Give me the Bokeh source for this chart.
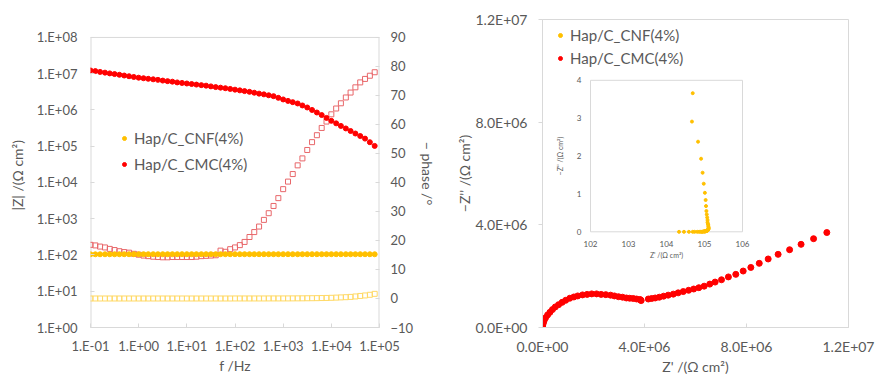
import math
from bokeh.plotting import figure
from bokeh.models import (Range1d, LinearAxis, LinearScale, FixedTicker, Legend, LegendItem)
from bokeh.layouts import row
from bokeh.embed import file_html
from bokeh.resources import INLINE
from bokeh.core.properties import value

# ---------------- data ----------------
freq = [0.1, 0.126, 0.158, 0.2, 0.251, 0.316, 0.398, 0.501, 0.631, 0.794,
        1.0, 1.26, 1.58, 2.0, 2.51, 3.16, 3.98, 5.01, 6.31, 7.94,
        10.0, 12.6, 15.8, 20.0, 25.1, 31.6, 39.8, 50.1, 63.1, 79.4,
        100, 126, 158, 200, 251, 316, 398, 501, 631, 794,
        1000, 1260, 1580, 2000, 2510, 3160, 3980, 5010, 6310, 7940,
        10000, 12600, 15800, 20000, 25100, 31600, 39800, 50100, 63100, 79400]

cmc_mod = [1.23e7, 1.18e7, 1.12e7, 1.07e7, 1.02e7, 9.77e6, 9.33e6, 8.91e6, 8.51e6, 8.13e6,
           7.76e6, 7.50e6, 7.24e6, 7.00e6, 6.76e6, 6.46e6, 6.24e6, 6.03e6, 5.75e6, 5.56e6,
           5.37e6, 5.19e6, 5.01e6, 4.84e6, 4.68e6, 4.47e6, 4.27e6, 4.12e6, 3.98e6, 3.80e6,
           3.63e6, 3.47e6, 3.31e6, 3.16e6, 2.99e6, 2.82e6, 2.69e6, 2.54e6, 2.40e6, 2.16e6,
           1.95e6, 1.78e6, 1.64e6, 1.51e6, 1.33e6, 1.17e6, 1.00e6, 8.51e5, 7.24e5, 6.03e5,
           5.01e5, 4.27e5, 3.63e5, 3.09e5, 2.63e5, 2.24e5, 1.91e5, 1.62e5, 1.29e5, 1.02e5]

cmc_phase = [18.5, 18.3, 17.9, 17.6, 17.1, 16.7, 16.3, 16.0, 15.8, 15.4,
             15.1, 14.8, 14.6, 14.4, 14.3, 14.2, 14.2, 14.3, 14.3, 14.3,
             14.3, 14.3, 14.4, 14.6, 14.7, 14.8, 14.9, 16.5, 16.1, 17.0,
             17.6, 18.4, 19.5, 21.2, 22.9, 24.8, 27.1, 29.4, 31.9, 34.6,
             37.7, 40.3, 42.9, 45.9, 48.3, 51.2, 53.9, 56.3, 58.8, 61.0,
             63.5, 65.5, 67.3, 69.3, 71.0, 72.8, 74.5, 75.7, 76.8, 78.0]

cnf_mod = [104.3, 104.5, 104.6, 104.7, 104.7, 104.8, 104.9, 104.9, 104.9, 105.0,
           105.0, 105.0, 105.0, 105.0, 105.0, 105.0, 105.1, 105.1, 105.1, 105.1,
           105.1, 105.1, 105.1, 105.1, 105.1, 105.1, 105.1, 105.1, 105.1, 105.1,
           105.1, 105.1, 105.1, 105.1, 105.1, 105.1, 105.1, 105.1, 105.1, 105.1,
           105.1, 105.1, 105.1, 105.1, 105.1, 105.1, 105.1, 105.1, 105.1, 105.1,
           105.1, 105.1, 105.0, 105.0, 105.0, 105.0, 105.0, 104.9, 104.8, 104.7]

cnf_phase = [0.0, 0.0, 0.0, 0.0, 0.0, 0.0, 0.0, 0.0, 0.0, 0.0,
             0.0, 0.0, 0.0, 0.0, 0.0, 0.0, 0.0, 0.0, 0.0, 0.0,
             0.0, 0.0, 0.0, 0.0, 0.0, 0.0, 0.0, 0.0, 0.0, 0.0,
             0.01, 0.01, 0.01, 0.01, 0.01, 0.01, 0.01, 0.02, 0.02, 0.02,
             0.02, 0.03, 0.04, 0.05, 0.06, 0.08, 0.10, 0.12, 0.15, 0.19,
             0.24, 0.30, 0.37, 0.45, 0.55, 0.70, 0.88, 1.05, 1.28, 1.60]

# Nyquist (CMC)
cmc_zre = [1.115e7, 1.063e7, 1.014e7, 9.69e6, 9.24e6, 8.85e6, 8.50e6, 8.17e6, 7.87e6, 7.58e6,
           7.29e6, 7.02e6, 6.77e6, 6.56e6, 6.34e6, 6.13e6, 5.93e6, 5.73e6, 5.52e6, 5.32e6,
           5.13e6, 4.93e6, 4.75e6, 4.58e6, 4.42e6, 4.28e6, 4.15e6,
           3.87e6, 3.85e6, 3.82e6, 3.69e6, 3.56e6, 3.42e6, 3.29e6, 3.14e6, 2.98e6, 2.82e6,
           2.67e6, 2.48e6, 2.30e6, 2.12e6, 1.93e6, 1.75e6, 1.57e6, 1.38e6, 1.23e6, 1.07e6,
           9.1e5, 7.7e5, 6.3e5, 5.0e5, 3.9e5, 2.9e5, 2.0e5, 1.2e5, 7e4, 4e4,
           2e4, 1e4, 5e3]
cmc_zim = [3.70e6, 3.46e6, 3.24e6, 3.03e6, 2.85e6, 2.67e6, 2.50e6, 2.34e6, 2.20e6, 2.07e6,
           1.97e6, 1.86e6, 1.77e6, 1.69e6, 1.61e6, 1.55e6, 1.50e6, 1.45e6, 1.40e6, 1.35e6,
           1.30e6, 1.26e6, 1.22e6, 1.18e6, 1.15e6, 1.13e6, 1.11e6,
           1.05e6, 1.07e6, 1.09e6, 1.11e6, 1.13e6, 1.14e6, 1.15e6, 1.18e6, 1.20e6, 1.23e6,
           1.26e6, 1.28e6, 1.29e6, 1.31e6, 1.31e6, 1.29e6, 1.27e6, 1.23e6, 1.19e6, 1.14e6,
           1.06e6, 9.8e5, 8.9e5, 8.0e5, 7.0e5, 5.9e5, 4.9e5, 3.8e5, 2.9e5, 2.1e5,
           1.5e5, 1.0e5, 6e4]

# Nyquist (CNF) - shown in inset
cnf_zre = [104.33, 104.46, 104.59, 104.69, 104.74, 104.81, 104.86, 104.90, 104.93, 104.95,
           104.97, 104.99, 105.00, 105.01, 105.02, 105.03, 105.04, 105.05, 105.06, 105.07,
           105.08, 105.09, 105.10, 105.10, 105.11, 105.11, 105.10, 105.10, 105.09, 105.08,
           105.08, 105.07, 105.06, 105.05, 105.04, 105.03, 105.01, 104.98, 104.95, 104.91,
           104.83, 104.67, 104.69]
cnf_zim = [0.00, 0.00, 0.00, 0.00, 0.00, 0.00, 0.00, 0.00, 0.00, 0.00,
           0.01, 0.01, 0.01, 0.01, 0.01, 0.02, 0.02, 0.02, 0.03, 0.03,
           0.04, 0.05, 0.06, 0.07, 0.09, 0.11, 0.14, 0.18, 0.21, 0.25,
           0.31, 0.38, 0.46, 0.55, 0.68, 0.84, 1.03, 1.27, 1.56, 1.93,
           2.38, 2.91, 3.66]

bode_xlim = [0.1, 1e5]
bode_ylim = [1.0, 1e8]
phase_lim = [-10, 90]
bode_x_ticks = [0.1, 1.0, 10.0, 100.0, 1000.0, 10000.0, 100000.0]
bode_x_labels = ["1.E-01", "1.E+00", "1.E+01", "1.E+02", "1.E+03", "1.E+04", "1.E+05"]
bode_y_ticks = [1.0, 10.0, 100.0, 1000.0, 10000.0, 100000.0, 1000000.0, 10000000.0, 100000000.0]
bode_y_labels = ["1.E+00", "1.E+01", "1.E+02", "1.E+03", "1.E+04", "1.E+05", "1.E+06", "1.E+07", "1.E+08"]
phase_ticks = [-10, 0, 10, 20, 30, 40, 50, 60, 70, 80, 90]
nyq_ticks = [0.0, 4.0e6, 8.0e6, 1.2e7]
nyq_labels = ["0.0E+00", "4.0E+06", "8.0E+06", "1.2E+07"]
ins_x_ticks = [102, 103, 104, 105, 106]
ins_y_ticks = [0, 1, 2, 3, 4]

labels = ["Hap/C_CNF(4%)", "Hap/C_CMC(4%)"]

# ---------------- style ----------------
FONT = "Lato"
GREY = "#595959"
FRAME = "#D9D9D9"
YEL = "#FFC000"
RED = "#FF0000"
SQ_RED = "#E8676A"
SQ_YEL = "#FFD966"


def style_axis(ax, size, tick_in, tick_out, standoff, label=None, lstandoff=5, line=True):
    ax.axis_line_color = FRAME if line else None
    ax.major_tick_line_color = FRAME
    ax.major_tick_in = tick_in
    ax.major_tick_out = tick_out
    ax.minor_tick_line_color = None
    ax.major_label_text_color = GREY
    ax.major_label_text_font = FONT
    ax.major_label_text_font_size = size
    ax.major_label_standoff = standoff
    if label is not None:
        ax.axis_label = label
        ax.axis_label_text_font = FONT
        ax.axis_label_text_font_size = "14px"
        ax.axis_label_text_font_style = "normal"
        ax.axis_label_text_color = GREY
        ax.axis_label_standoff = lstandoff


# Both frames share top (19) and bottom (328) in the row; the Bode box itself
# starts 18 px lower, so its y ranges are stretched by the frame/box ratio.
FRAME_H = 309
BOX_H = 291
stretch = FRAME_H / BOX_H
y_top = 10 ** (math.log10(bode_ylim[0]) + (math.log10(bode_ylim[1]) - math.log10(bode_ylim[0])) * stretch)
ph_top = phase_lim[0] + (phase_lim[1] - phase_lim[0]) * stretch

# ---------------- left: Bode ----------------
left = figure(x_axis_type="log", y_axis_type="log",
              x_range=Range1d(*bode_xlim), y_range=Range1d(bode_ylim[0], y_top),
              width=440, height=377,
              min_border_left=90, min_border_right=61,
              min_border_top=19, min_border_bottom=49,
              output_backend="svg", toolbar_location=None)
left.extra_y_ranges = {"phase": Range1d(phase_lim[0], ph_top)}
left.extra_y_scales = {"phase": LinearScale()}
left.xgrid.visible = False
left.ygrid.visible = False
left.outline_line_color = None

left.xaxis.ticker = FixedTicker(ticks=bode_x_ticks)
left.xaxis.major_label_overrides = dict(zip(bode_x_ticks, bode_x_labels))
left.yaxis.ticker = FixedTicker(ticks=bode_y_ticks)
left.yaxis.major_label_overrides = dict(zip(bode_y_ticks, bode_y_labels))
style_axis(left.xaxis[0], "13px", 4, 0, 10, "f /Hz", 0)
style_axis(left.yaxis[0], "13px", 4, 0, 13, "|Z|  /(Ω cm²)", 8, line=False)

ph_axis = LinearAxis(y_range_name="phase", ticker=FixedTicker(ticks=phase_ticks))
style_axis(ph_axis, "13px", 4, 0, 11, "− phase /°", 3, line=False)
left.add_layout(ph_axis, "right")

# box of the Bode panel
left.segment(x0=[bode_xlim[0]], y0=[bode_ylim[1]], x1=[bode_xlim[1]], y1=[bode_ylim[1]],
             line_color=FRAME, line_width=1)
left.segment(x0=[bode_xlim[0], bode_xlim[1]], y0=[bode_ylim[0], bode_ylim[0]],
             x1=[bode_xlim[0], bode_xlim[1]], y1=[bode_ylim[1], bode_ylim[1]],
             line_color=FRAME, line_width=2)

left.scatter(freq, cnf_phase, y_range_name="phase", marker="square", size=5,
             fill_color=None, line_color=SQ_YEL, line_width=1)
left.scatter(freq, cmc_phase, y_range_name="phase", marker="square", size=5,
             fill_color=None, line_color=SQ_RED, line_width=1)
r1 = left.scatter(freq, cnf_mod, size=5, color=YEL)
r2 = left.scatter(freq, cmc_mod, size=5, color=RED)

leg1 = Legend(items=[LegendItem(label=labels[0], renderers=[r1]),
                     LegendItem(label=labels[1], renderers=[r2])],
              location=(29, 153), glyph_width=10, glyph_height=10, label_height=20,
              spacing=6, padding=0, margin=0, border_line_color=None,
              background_fill_alpha=0, label_text_font=FONT, label_text_font_size="15px",
              label_text_color=GREY, label_standoff=5)
left.add_layout(leg1)

# ---------------- right: Nyquist ----------------
FW, FH = 306, 309
right = figure(x_range=Range1d(0, 1.2e7), y_range=Range1d(0, 1.2e7),
               width=435, height=377,
               min_border_left=102, min_border_right=27,
               min_border_top=19, min_border_bottom=49,
               output_backend="svg", toolbar_location=None)
right.xgrid.visible = False
right.ygrid.visible = False
right.outline_line_color = FRAME
right.xaxis.ticker = FixedTicker(ticks=nyq_ticks)
right.xaxis.major_label_overrides = dict(zip(nyq_ticks, nyq_labels))
right.yaxis.ticker = FixedTicker(ticks=nyq_ticks)
right.yaxis.major_label_overrides = dict(zip(nyq_ticks, nyq_labels))
style_axis(right.xaxis[0], "14px", 4, 0, 10, "Z' /(Ω cm²)", 0)
style_axis(right.yaxis[0], "14px", 0, 4, 11, "−Z'' /(Ω cm²)", 0)

# inset placed in frame pixels: left 48, width 152, bottom 96, height 152
IX0, IW, IY0, IH = 48, 152, 96, 152
ins_xlim = [102, 106]
ins_ylim = [0, 4]
sx = (ins_xlim[1] - ins_xlim[0]) / IW
sy = (ins_ylim[1] - ins_ylim[0]) / IH
right.extra_x_ranges = {"ix": Range1d(ins_xlim[0] - IX0 * sx, ins_xlim[0] + (FW - IX0) * sx)}
right.extra_y_ranges = {"iy": Range1d(ins_ylim[0] - IY0 * sy, ins_ylim[0] + (FH - IY0) * sy)}

right.quad(left=[ins_xlim[0]], right=[ins_xlim[1]], bottom=[ins_ylim[0]], top=[ins_ylim[1]],
           x_range_name="ix", y_range_name="iy", fill_color="white", line_color=FRAME, line_width=1)
right.text(x=ins_x_ticks, y=[ins_ylim[0]] * len(ins_x_ticks), text=[str(t) for t in ins_x_ticks],
           x_range_name="ix", y_range_name="iy", y_offset=12, text_align="center",
           text_baseline="middle", text_font=value(FONT), text_font_size="8px", text_color=GREY)
right.text(x=[ins_xlim[0]] * len(ins_y_ticks), y=ins_y_ticks, text=[str(t) for t in ins_y_ticks],
           x_range_name="ix", y_range_name="iy", x_offset=-9, text_align="right",
           text_baseline="middle", text_font=value(FONT), text_font_size="8px", text_color=GREY)
right.text(x=[104], y=[ins_ylim[0]], text=["Z' /(Ω cm²)"], x_range_name="ix", y_range_name="iy",
           y_offset=23, text_align="center", text_baseline="middle", text_font=value(FONT),
           text_font_size="7px", text_color=GREY)
right.text(x=[ins_xlim[0]], y=[2], text=["−Z'' /(Ω cm²)"], x_range_name="ix", y_range_name="iy",
           x_offset=-31, angle=math.pi / 2, text_align="center", text_baseline="middle",
           text_font=value(FONT), text_font_size="7px", text_color=GREY)
right.scatter(cnf_zre, cnf_zim, x_range_name="ix", y_range_name="iy", size=3, color=YEL)

n1 = right.scatter(cnf_zre, cnf_zim, size=6, color=YEL)
n2 = right.scatter(cmc_zre, cmc_zim, size=6, color=RED)

leg2 = Legend(items=[LegendItem(label=labels[0], renderers=[n1]),
                     LegendItem(label=labels[1], renderers=[n2])],
              location=(13, 259), glyph_width=10, glyph_height=10, label_height=20,
              spacing=3, padding=0, margin=0, border_line_color=None,
              background_fill_alpha=0, label_text_font=FONT, label_text_font_size="15px",
              label_text_color=GREY, label_standoff=5)
right.add_layout(leg2)

layout = row(left, right)
open("out.html", "w").write(file_html(layout, INLINE))
